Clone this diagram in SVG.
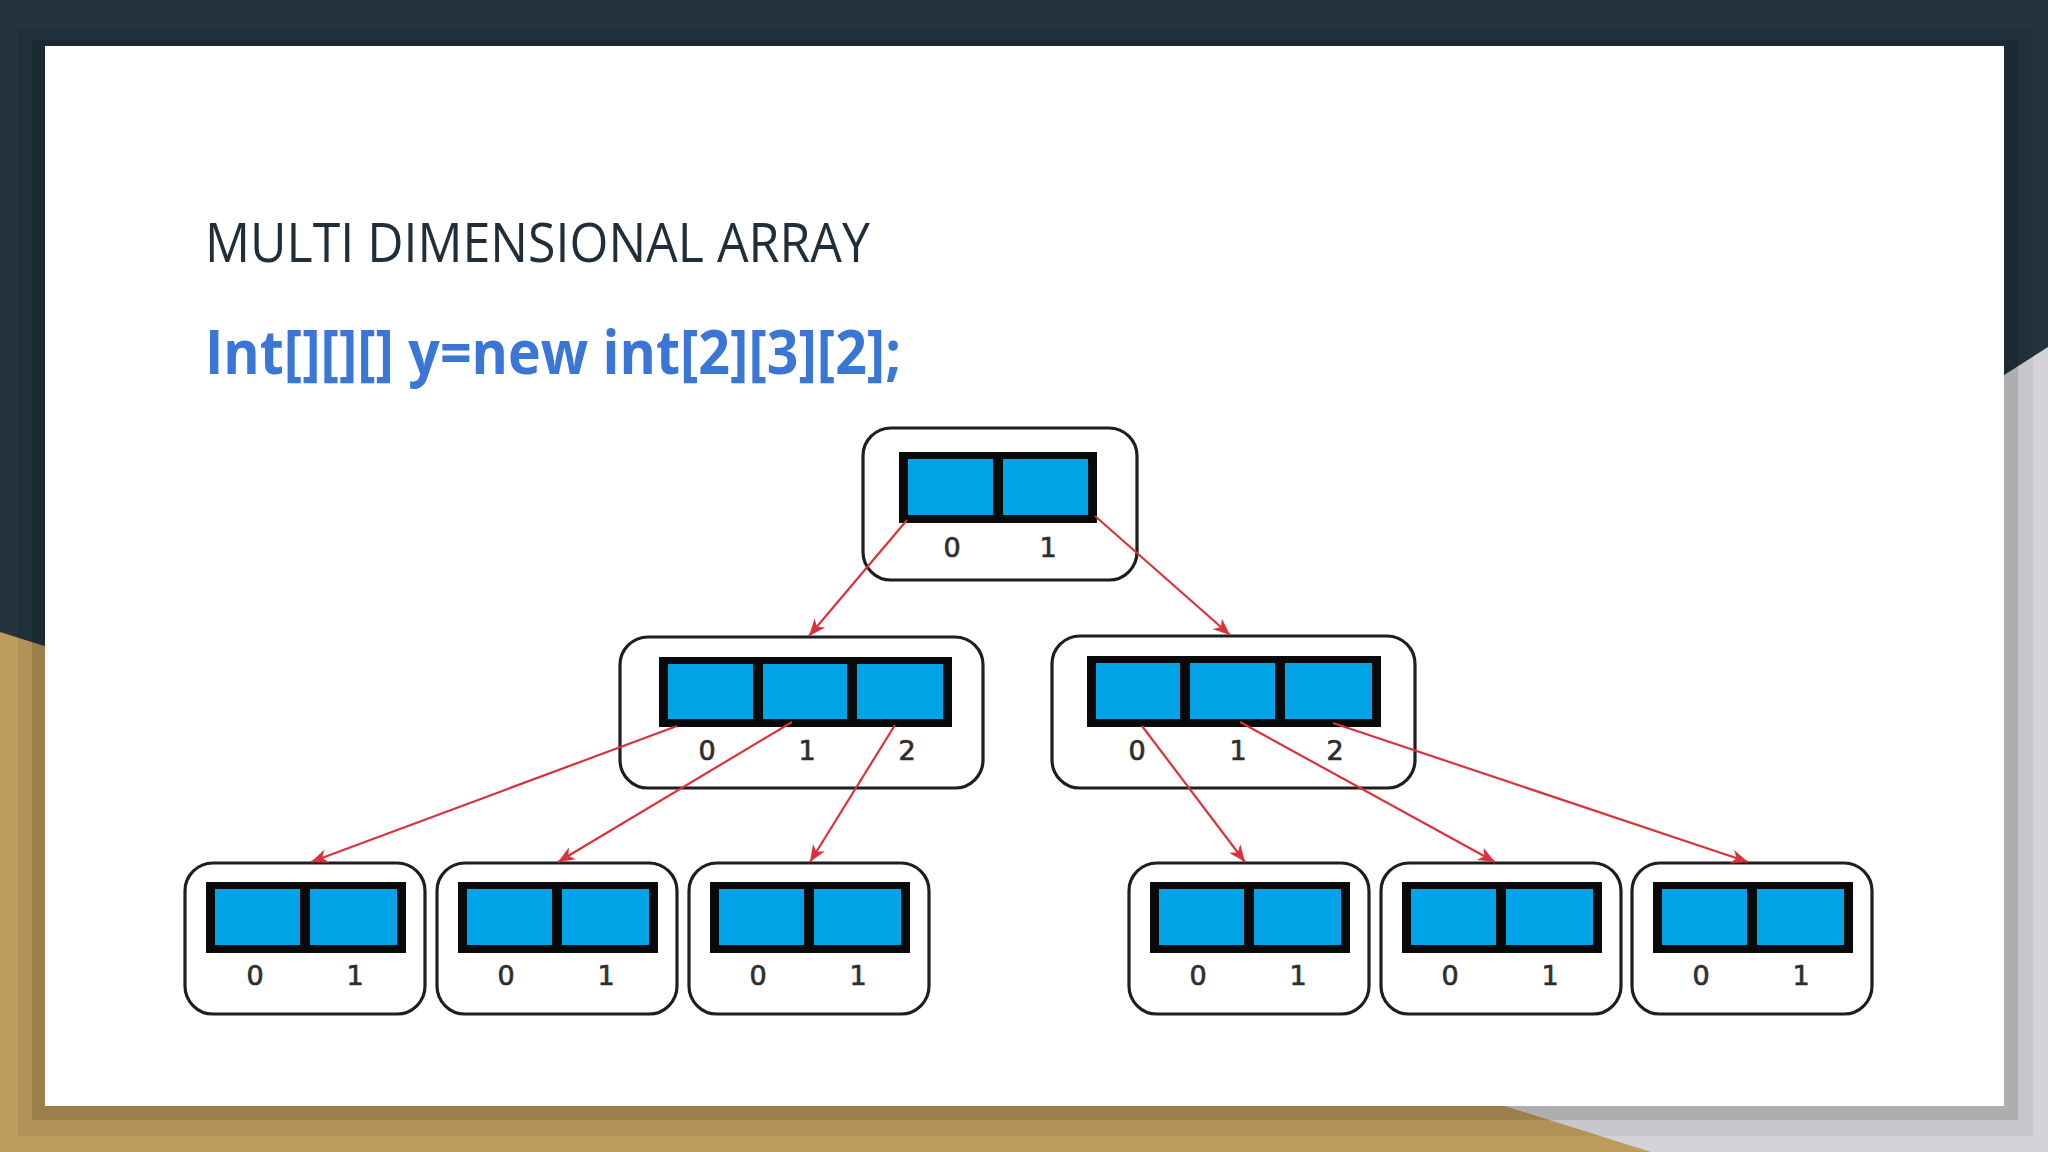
<svg xmlns="http://www.w3.org/2000/svg" width="2048" height="1152" viewBox="0 0 2048 1152">
<style>
.outer{fill:#ffffff;stroke:#1e1e1e;stroke-width:3.2}
.box{fill:#0a0a0a}
.cell{fill:#03a3e8}
.lbl{font-family:"DejaVu Sans",sans-serif;font-size:27px;fill:#2e2e2e;stroke:#2e2e2e;stroke-width:0.7;text-anchor:middle}
.conn line{stroke:#d9323b;stroke-width:2.2;fill:none}
</style>
<defs>
<marker id="ah" markerUnits="userSpaceOnUse" markerWidth="18" markerHeight="14" refX="17" refY="7" orient="auto">
<path d="M0,0 L17,7 L0,14 L5,7 z" fill="#d9323b"/>
</marker>
</defs>
<!-- background -->
<rect x="0" y="0" width="2048" height="1152" fill="#23343f"/>
<polygon points="2048,347 1000,1014 1000,1152 2048,1152" fill="#d4d3d7"/>
<polygon points="0,632 1651,1152 0,1152" fill="#bd9c5d"/>
<rect x="18" y="30" width="2015" height="1106" fill="#000" opacity="0.06"/>
<rect x="32" y="40" width="1986" height="1080" fill="#000" opacity="0.12"/>
<rect x="45" y="46" width="1959" height="1060" fill="#ffffff"/>
<!-- texts -->
<text x="205" y="262" font-family="'Open Sans',sans-serif" font-size="54" fill="#1f2e38" textLength="665" lengthAdjust="spacingAndGlyphs">MULTI DIMENSIONAL ARRAY</text>
<text x="205" y="374" font-family="'Open Sans',sans-serif" font-weight="bold" font-size="60" fill="#3a76d6" textLength="696" lengthAdjust="spacingAndGlyphs">Int[][][] y=new int[2][3][2];</text>
<!-- top node -->
<g id="node-root">
<rect class="outer" x="863" y="428" width="274" height="152" rx="28"/>
<rect class="box" x="899" y="452" width="198" height="71"/>
<rect class="cell" x="908" y="459" width="85" height="56"/>
<rect class="cell" x="1003" y="459" width="85" height="56"/>
<text class="lbl" x="952" y="557">0</text>
<text class="lbl" x="1048" y="557">1</text>
</g>
<!-- middle nodes -->
<g id="node-mid-0">
<rect class="outer" x="620" y="637" width="363" height="151" rx="28"/>
<rect class="box" x="659" y="657" width="293" height="70"/>
<rect class="cell" x="668" y="664" width="85" height="55"/>
<rect class="cell" x="763" y="664" width="84" height="55"/>
<rect class="cell" x="857" y="664" width="86" height="55"/>
<text class="lbl" x="707" y="760">0</text>
<text class="lbl" x="807" y="760">1</text>
<text class="lbl" x="907" y="760">2</text>
</g>
<g id="node-mid-1">
<rect class="outer" x="1052" y="636" width="363" height="152" rx="28"/>
<rect class="box" x="1087" y="656" width="294" height="71"/>
<rect class="cell" x="1096" y="663" width="84" height="56"/>
<rect class="cell" x="1190" y="663" width="85" height="56"/>
<rect class="cell" x="1285" y="663" width="87" height="56"/>
<text class="lbl" x="1137" y="760">0</text>
<text class="lbl" x="1238" y="760">1</text>
<text class="lbl" x="1335" y="760">2</text>
</g>
<!-- bottom nodes -->
<g id="node-leaf-00">
<rect class="outer" x="185" y="863" width="240" height="151" rx="28"/>
<rect class="box" x="206" y="882" width="200" height="71"/>
<rect class="cell" x="215" y="889" width="85" height="56"/>
<rect class="cell" x="310" y="889" width="87" height="56"/>
<text class="lbl" x="255" y="985">0</text>
<text class="lbl" x="355" y="985">1</text>
</g>
<g id="node-leaf-01">
<rect class="outer" x="437" y="863" width="240" height="151" rx="28"/>
<rect class="box" x="458" y="882" width="200" height="71"/>
<rect class="cell" x="467" y="889" width="85" height="56"/>
<rect class="cell" x="562" y="889" width="87" height="56"/>
<text class="lbl" x="506" y="985">0</text>
<text class="lbl" x="606" y="985">1</text>
</g>
<g id="node-leaf-02">
<rect class="outer" x="689" y="863" width="240" height="151" rx="28"/>
<rect class="box" x="710" y="882" width="200" height="71"/>
<rect class="cell" x="719" y="889" width="85" height="56"/>
<rect class="cell" x="814" y="889" width="87" height="56"/>
<text class="lbl" x="758" y="985">0</text>
<text class="lbl" x="858" y="985">1</text>
</g>
<g id="node-leaf-10">
<rect class="outer" x="1129" y="863" width="240" height="151" rx="28"/>
<rect class="box" x="1150" y="882" width="200" height="71"/>
<rect class="cell" x="1159" y="889" width="85" height="56"/>
<rect class="cell" x="1254" y="889" width="87" height="56"/>
<text class="lbl" x="1198" y="985">0</text>
<text class="lbl" x="1298" y="985">1</text>
</g>
<g id="node-leaf-11">
<rect class="outer" x="1381" y="863" width="240" height="151" rx="28"/>
<rect class="box" x="1402" y="882" width="200" height="71"/>
<rect class="cell" x="1411" y="889" width="85" height="56"/>
<rect class="cell" x="1506" y="889" width="87" height="56"/>
<text class="lbl" x="1450" y="985">0</text>
<text class="lbl" x="1550" y="985">1</text>
</g>
<g id="node-leaf-12">
<rect class="outer" x="1632" y="863" width="240" height="151" rx="28"/>
<rect class="box" x="1653" y="882" width="200" height="71"/>
<rect class="cell" x="1662" y="889" width="85" height="56"/>
<rect class="cell" x="1757" y="889" width="87" height="56"/>
<text class="lbl" x="1701" y="985">0</text>
<text class="lbl" x="1801" y="985">1</text>
</g>
<!-- connectors -->
<g id="connectors" class="conn">
<line x1="907" y1="520" x2="809" y2="636" marker-end="url(#ah)"/>
<line x1="1095" y1="516" x2="1230" y2="635" marker-end="url(#ah)"/>
<line x1="677" y1="726" x2="311" y2="862" marker-end="url(#ah)"/>
<line x1="792" y1="722" x2="558" y2="862" marker-end="url(#ah)"/>
<line x1="895" y1="725" x2="810" y2="862" marker-end="url(#ah)"/>
<line x1="1142" y1="726" x2="1245" y2="862" marker-end="url(#ah)"/>
<line x1="1240" y1="722" x2="1495" y2="862" marker-end="url(#ah)"/>
<line x1="1333" y1="723" x2="1748" y2="862" marker-end="url(#ah)"/>
</g>
</svg>
